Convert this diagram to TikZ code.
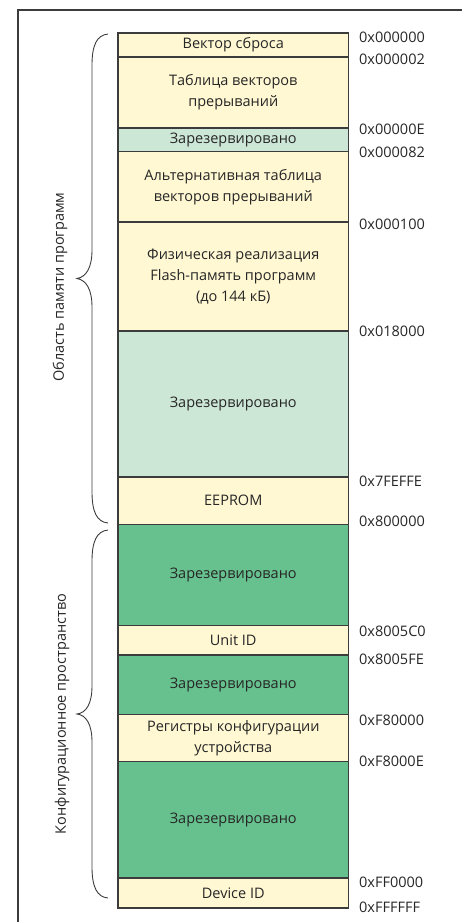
\documentclass[tikz,border=0pt]{standalone}
\usepackage{fontspec}
\setmainfont{Open Sans}
\definecolor{ylw}{HTML}{FFF8D3}
\definecolor{lgr}{HTML}{CDE7D6}
\definecolor{dgr}{HTML}{67C18E}
\definecolor{edge}{HTML}{3C3C3C}
\tikzset{
  mem/.style={draw=edge, line width=1.1pt, minimum width=230.5pt, inner sep=0pt, outer sep=0pt,
    align=center, anchor=north west, text=black!85, font=\fontsize{14.5}{21}\selectfont},
  addr/.style={anchor=west, inner sep=0pt, text=black!85, font=\fontsize{14.5}{17}\selectfont},
  side/.style={rotate=90, inner sep=0pt, text=black!85, font=\fontsize{14.5}{17}\selectfont},
  brc/.style={draw=edge, line width=0.9pt},
  frm/.style={draw=edge, line width=1.1pt}
}
\begin{document}
\begin{tikzpicture}[x=1pt, y=-1pt]
\useasboundingbox (0,0) rectangle (462,922);
\draw[frm] (18,922) -- (18,10) -- (462,10);
% memory blocks
\node[mem, fill=ylw, minimum height=24pt]   (b1)  at (118,33)    {Вектор сброса};
\node[mem, fill=ylw, minimum height=71pt]   (b2)  at (118,57)    {Таблица векторов\\прерываний};
\node[mem, fill=lgr, minimum height=23.5pt] (b3)  at (118,128)   {Зарезервировано};
\node[mem, fill=ylw, minimum height=70.5pt] (b4)  at (118,151.5) {Альтернативная таблица\\векторов прерываний};
\node[mem, fill=ylw, minimum height=109pt]  (b5)  at (118,222)   {Физическая реализация\\Flash-память программ\\(до 144 кБ)};
\node[mem, fill=lgr, minimum height=146pt]  (b6)  at (118,331)   {Зарезервировано};
\node[mem, fill=ylw, minimum height=47.5pt] (b7)  at (118,477)   {EEPROM};
\node[mem, fill=dgr, minimum height=101pt]  (b8)  at (118,524.5) {Зарезервировано};
\node[mem, fill=ylw, minimum height=29.5pt] (b9)  at (118,625.5) {Unit ID};
\node[mem, fill=dgr, minimum height=59.5pt] (b10) at (118,655)   {Зарезервировано};
\node[mem, fill=ylw, minimum height=47pt]   (b11) at (118,714.5) {Регистры конфигурации\\устройства};
\node[mem, fill=dgr, minimum height=116.5pt](b12) at (118,761.5) {Зарезервировано};
\node[mem, fill=ylw, minimum height=30pt]   (b13) at (118,878)   {Device ID};
% addresses
\node[addr] (a1)  at (359,37)    {0x000000};
\node[addr] (a2)  at (359,59.5)  {0x000002};
\node[addr] (a3)  at (359,129)   {0x00000E};
\node[addr] (a4)  at (359,152.5) {0x000082};
\node[addr] (a5)  at (359,224.5) {0x000100};
\node[addr] (a6)  at (359,331)   {0x018000};
\node[addr] (a7)  at (359,481)   {0x7FEFFE};
\node[addr] (a8)  at (359,521.5) {0x800000};
\node[addr] (a9)  at (359,631)   {0x8005C0};
\node[addr] (a10) at (359,659)   {0x8005FE};
\node[addr] (a11) at (359,720)   {0xF80000};
\node[addr] (a12) at (359,761)   {0xF8000E};
\node[addr] (a13) at (359,882.5) {0xFF0000};
\node[addr] (a14) at (359,907.5) {0xFFFFFF};
% braces
\draw[brc] (108,34) .. controls (97,35) and (92,45) .. (92,65) -- (92,250)
  .. controls (92,268) and (86,277) .. (77,278.5)
  .. controls (86,280) and (92,289) .. (92,307) -- (92,492)
  .. controls (92,512) and (97,522) .. (108,523);
\draw[brc] (108,530) .. controls (97,531) and (92,541) .. (92,561) -- (92,686)
  .. controls (92,704) and (86,713) .. (77,714)
  .. controls (86,715) and (92,724) .. (92,742) -- (92,867)
  .. controls (92,887) and (97,897) .. (108,898);
\node[side] (s1) at (60,287) {Область памяти программ};
\node[side] (s2) at (62,714) {Конфигурационное пространство};
\end{tikzpicture}
\end{document}
